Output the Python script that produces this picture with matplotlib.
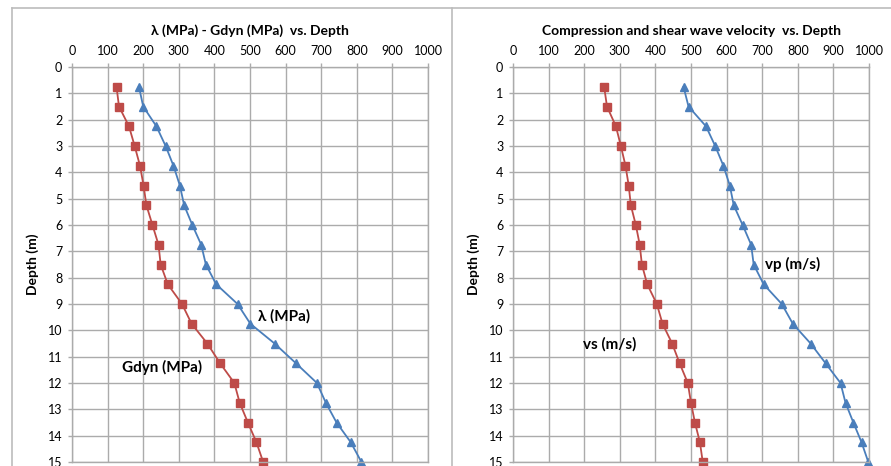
import matplotlib
matplotlib.use('Agg')
import matplotlib.pyplot as plt
from matplotlib.lines import Line2D

plt.rcParams['font.family'] = ['Lato', 'DejaVu Sans']

depth = [0.75, 1.5, 2.25, 3.0, 3.75, 4.5, 5.25, 6.0, 6.75, 7.5,
         8.25, 9.0, 9.75, 10.5, 11.25, 12.0, 12.75, 13.5, 14.25, 15.0]

# left chart
lam = [188, 200, 237, 263, 285, 303, 315, 338, 363, 376,
       405, 465, 501, 569, 629, 688, 713, 743, 783, 813]
gdyn = [125, 132, 160, 176, 191, 201, 209, 226, 243, 249,
        269, 309, 336, 380, 416, 456, 471, 494, 518, 537]

# right chart
vp = [479, 493, 542, 568, 591, 609, 620, 645, 669, 676,
      704, 755, 786, 836, 878, 920, 934, 956, 979, 998]
vs = [256, 264, 289, 303, 316, 325, 331, 345, 356, 362,
      377, 404, 420, 447, 468, 491, 500, 511, 525, 533]

xticks = list(range(0, 1001, 100))
yticks = list(range(0, 16))

blue = '#4a7ebb'
red = '#be4b48'
grid_c = '#ababab'

fig = plt.figure(figsize=(8.91, 4.66), dpi=100)

# chart borders (excel chart area)
W, H = 891.0, 466.0
border = '#bcbcbc'
fig.add_artist(Line2D([12 / W, 1], [1 - 8 / H, 1 - 8 / H], color=border, lw=1.2, transform=fig.transFigure))
fig.add_artist(Line2D([12 / W, 12 / W], [0, 1 - 8 / H], color=border, lw=1.2, transform=fig.transFigure))
fig.add_artist(Line2D([452 / W, 452 / W], [0, 1 - 8 / H], color=border, lw=1.2, transform=fig.transFigure))

top = 67 / H
bot = 462 / H
axL = fig.add_axes([72 / W, 1 - bot, 356 / W, (bot - top)])
axR = fig.add_axes([513 / W, 1 - bot, 356 / W, (bot - top)])


def style(ax, title):
    ax.set_xlim(0, 1000)
    ax.set_ylim(15, 0)
    ax.set_xticks(xticks)
    ax.set_yticks(yticks)
    ax.xaxis.tick_top()
    ax.grid(True, color=grid_c, lw=1)
    ax.set_axisbelow(True)
    for s in ax.spines.values():
        s.set_color(grid_c)
        s.set_linewidth(1)
    ax.tick_params(axis='both', colors=grid_c, labelcolor='black', labelsize=9,
                   length=3, width=1, pad=4)
    ax.set_ylabel('Depth (m)', fontsize=10, fontweight='bold', labelpad=6)
    ax.text(0.5, 1 + (67 - 31) / 395.0, title, transform=ax.transAxes,
            ha='center', va='center', fontsize=10, fontweight='bold')


style(axL, 'λ (MPa) - Gdyn (MPa)  vs. Depth')
axL.plot(lam, depth, color=blue, lw=1.3, marker='^', ms=5.5, clip_on=False)
axL.plot(gdyn, depth, color=red, lw=1.3, marker='s', ms=5.5, clip_on=False)
axL.text(522, 9.47, 'λ (MPa)', fontsize=11, fontweight='bold', va='center', ha='left')
axL.text(140, 11.4, 'Gdyn (MPa)', fontsize=11, fontweight='bold', va='center', ha='left')

style(axR, 'Compression and shear wave velocity  vs. Depth')
axR.plot(vp, depth, color=blue, lw=1.3, marker='^', ms=5.5, clip_on=False)
axR.plot(vs, depth, color=red, lw=1.3, marker='s', ms=5.5, clip_on=False)
axR.text(708, 7.5, 'vp (m/s)', fontsize=11, fontweight='bold', va='center', ha='left')
axR.text(197, 10.53, 'vs (m/s)', fontsize=11, fontweight='bold', va='center', ha='left')

fig.savefig('out.png', dpi=100)
